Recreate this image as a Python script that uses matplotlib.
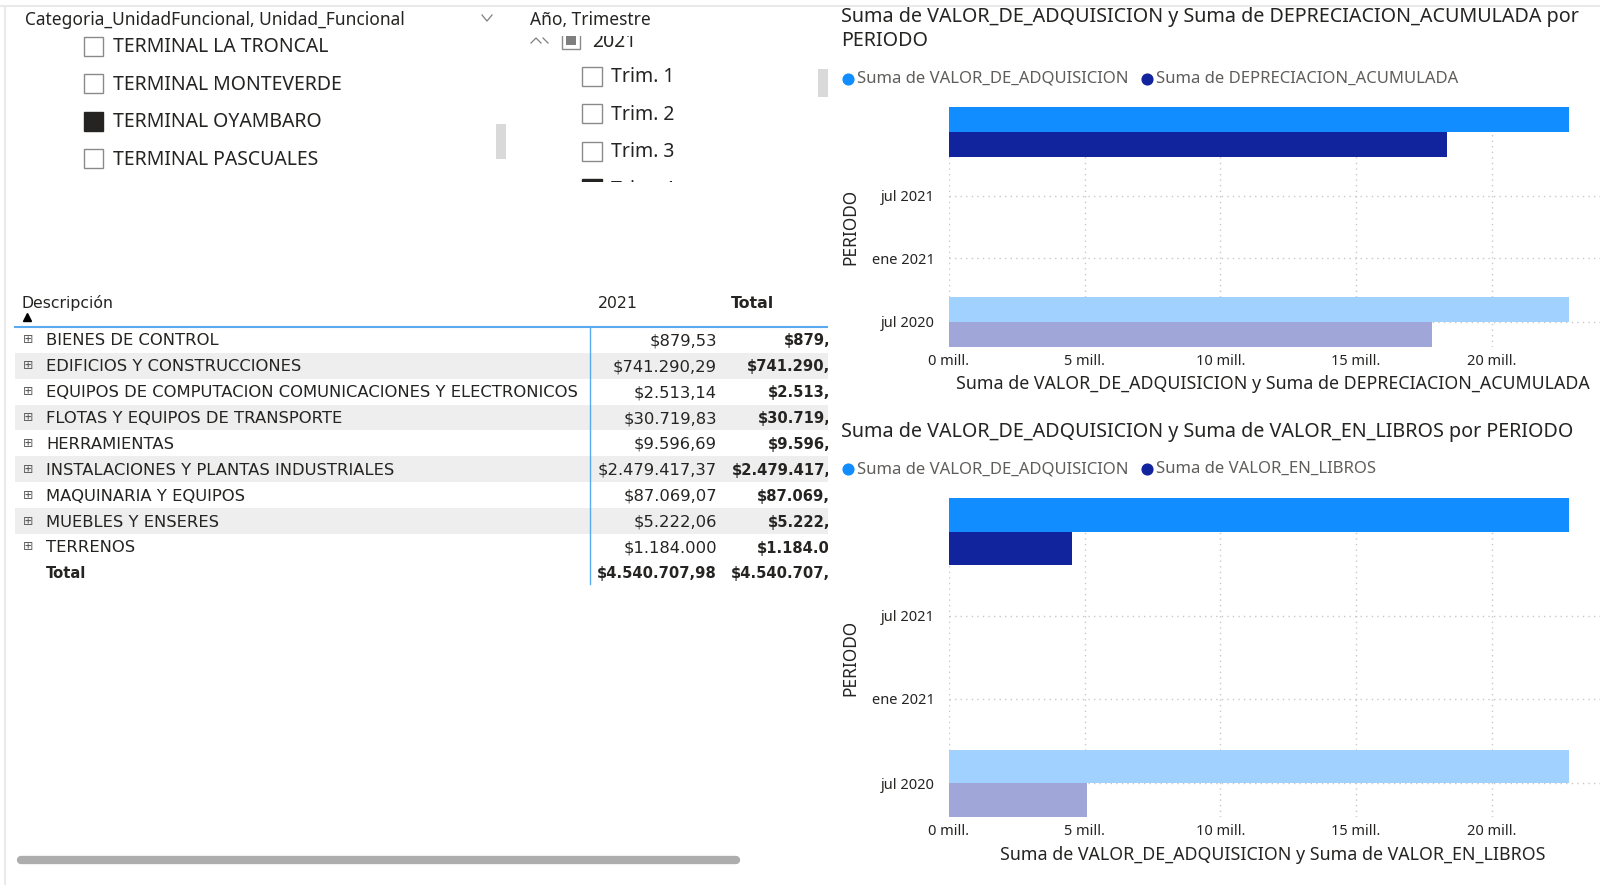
import matplotlib
matplotlib.use("Agg")
import matplotlib.pyplot as plt
import matplotlib.dates as mdates
from matplotlib.patches import Rectangle
import pandas as pd

plt.rcParams['font.family'] = ['Noto Sans', 'DejaVu Sans']

# --- data ---
unidades = ["TERMINAL LA TRONCAL", "TERMINAL MONTEVERDE", "TERMINAL OYAMBARO", "TERMINAL PASCUALES"]
unidades_sel = [False, False, True, False]
trimestres = ["Trim. 1", "Trim. 2", "Trim. 3", "Trim. 4"]
trimestres_sel = [False, False, False, True]

descripciones = ["BIENES DE CONTROL", "EDIFICIOS Y CONSTRUCCIONES",
                 "EQUIPOS DE COMPUTACION COMUNICACIONES Y ELECTRONICOS",
                 "FLOTAS Y EQUIPOS DE TRANSPORTE", "HERRAMIENTAS",
                 "INSTALACIONES Y PLANTAS INDUSTRIALES", "MAQUINARIA Y EQUIPOS",
                 "MUEBLES Y ENSERES", "TERRENOS"]
valores_2021 = [879.53, 741290.29, 2513.14, 30719.83, 9596.69,
                2479417.37, 87069.07, 5222.06, 1184000.00]

periodos = ["2020-07-01", "2021-12-31"]
valor_adquisicion = [22.86e6, 22.86e6]
depreciacion_acumulada = [17.80e6, 18.35e6]
valor_en_libros = [5.07e6, 4.55e6]
y_ticks = ["2020-07-01", "2021-01-01", "2021-07-01"]
y_tick_labels = ["jul 2020", "ene 2021", "jul 2021"]

TXT = '#252423'
GREY = '#605E5C'
LIGHT, DARK = '#118DFF', '#12239E'
LIGHT_F, DARK_F = '#A0D1FF', '#A0A6D8'
TFONT = 'DejaVu Sans'
TSIZE = 11.8
BSIZE = 10.6


def fmt_es(v):
    if abs(v - round(v)) < 1e-9:
        s = f"{v:,.0f}"
    else:
        s = f"{v:,.2f}"
    return "$" + s.replace(",", "X").replace(".", ",").replace("X", ".")


fig = plt.figure(figsize=(16, 8.85), dpi=100)
W, H = 1600, 885

bg = fig.add_axes([0, 0, 1, 1])
bg.set_xlim(0, W)
bg.set_ylim(H, 0)
bg.axis('off')


def px_axes(x0, y0, x1, y1):
    a = fig.add_axes([x0 / W, 1 - y1 / H, (x1 - x0) / W, (y1 - y0) / H])
    return a


# faint page borders
bg.plot([0, W], [6, 6], color='#EAEAEA', lw=1.5)
bg.plot([5, 5], [6, H], color='#EAEAEA', lw=1.5)

# --- slicer 1 ---
bg.text(25, 20, "Categoria_UnidadFuncional, Unidad_Funcional", fontsize=12.5,
        color=TXT, va='center')
bg.plot([482, 487, 492], [15, 21, 15], color='#7F7F7F', lw=0.9)
for i, (u, s) in enumerate(zip(unidades, unidades_sel)):
    y = 46 + i * 37.6
    bg.add_patch(Rectangle((84, y - 9.5), 19, 19, facecolor=TXT if s else 'white',
                           edgecolor=TXT if s else '#8A8A8A', lw=1))
    bg.text(113, y + 1, u, fontsize=14, color=TXT, va='center')
bg.add_patch(Rectangle((496, 124), 10, 35, facecolor='#D9D9D9', edgecolor='none'))

# --- slicer 2 ---
bg.text(530, 20, "Año, Trimestre", fontsize=12.5, color=TXT, va='center')
sl = px_axes(520, 36, 812, 182)
sl.set_xlim(520, 812)
sl.set_ylim(182, 36)
sl.axis('off')
sl.plot([531, 536, 541], [43, 38, 43], color='#7F7F7F', lw=0.9)
sl.plot([543, 548], [38, 43], color='#7F7F7F', lw=0.9)
sl.add_patch(Rectangle((562, 32), 18, 17, facecolor='white', edgecolor='#8A8A8A', lw=1))
sl.add_patch(Rectangle((566, 35), 10, 10, facecolor='#7F7F7F', edgecolor='none'))
sl.text(592, 42, "2021", fontsize=14, color=TXT, va='center', clip_on=True)
for i, (t, s) in enumerate(zip(trimestres, trimestres_sel)):
    y = 76 + i * 37.6
    sl.add_patch(Rectangle((582, y - 9.5), 20, 19, facecolor=TXT if s else 'white',
                           edgecolor=TXT if s else '#8A8A8A', lw=1))
    sl.text(611, y + 1, t, fontsize=14, color=TXT, va='center', clip_on=True)
bg.add_patch(Rectangle((818, 69), 10, 28, facecolor='#D9D9D9', edgecolor='none'))

# --- matrix table ---
tb = px_axes(0, 280, 828, 600)
tb.set_xlim(0, 828)
tb.set_ylim(600, 280)
tb.axis('off')
tb.text(22, 303, "Descripción", fontsize=11.3, color=TXT, va='center', family=TFONT)
tb.text(598, 303, "2021", fontsize=11.3, color=TXT, va='center', family=TFONT)
tb.text(731, 303, "Total", fontsize=11.3, color=TXT, va='center', fontweight='bold',
        family=TFONT)
tb.plot([27.5], [317], marker='^', color='black', markersize=6)
row_h = 25.9
for i, (d, v) in enumerate(zip(descripciones, valores_2021)):
    y = 339.8 + i * row_h
    if i % 2 == 1:
        tb.add_patch(Rectangle((15, y - row_h / 2), 813, row_h, facecolor='#EEEEEE',
                               edgecolor='none', zorder=0))
    tb.text(28.5, y, "⊞", fontsize=9, color='#605E5C', va='center', ha='center',
            family='DejaVu Sans')
    tb.text(46, y + 1, d, fontsize=TSIZE, color=TXT, va='center', family=TFONT)
    tb.text(717, y + 1, fmt_es(v), fontsize=TSIZE, color=TXT, va='center', ha='right',
            family=TFONT)
    tb.text(851, y + 1, fmt_es(v), fontsize=BSIZE, color=TXT, va='center', ha='right',
            fontweight='bold', clip_on=True, family=TFONT)
y = 339.8 + len(descripciones) * row_h
total = sum(valores_2021)
tb.text(46, y + 1, "Total", fontsize=BSIZE, color=TXT, va='center', fontweight='bold',
        family=TFONT)
tb.text(717, y + 1, fmt_es(total), fontsize=BSIZE, color=TXT, va='center', ha='right',
        fontweight='bold', family=TFONT)
tb.text(851, y + 1, fmt_es(total), fontsize=BSIZE, color=TXT, va='center', ha='right',
        fontweight='bold', clip_on=True, family=TFONT)
tb.plot([15, 828], [326.5, 326.5], color='#5AAAF0', lw=1.5)
tb.plot([590, 590], [326.5, 584], color='#5AAAF0', lw=1)

bg.plot([21, 736], [860, 860], color='#ADADAD', lw=6, solid_capstyle='round')

# --- bar charts ---
dates = mdates.date2num(pd.to_datetime(periodos))
ticks = mdates.date2num(pd.to_datetime(y_ticks))
bh = 73


def bar_chart(box, second, second_name, title_lines, title_y, legend_y, label_y):
    ax = px_axes(*box)
    ax.set_facecolor('none')
    ax.barh(dates + bh / 2, valor_adquisicion, height=bh, color=[LIGHT_F, LIGHT], zorder=2)
    ax.barh(dates - bh / 2, second, height=bh, color=[DARK_F, DARK], zorder=2)
    ax.set_xlim(0, 24e6)
    ax.set_ylim(dates[0] - bh, dates[1] + bh)
    ax.set_xticks([0, 5e6, 10e6, 15e6, 20e6])
    ax.set_xticklabels([f"{v / 1e6:.0f} mill." for v in ax.get_xticks()])
    ax.set_yticks(ticks)
    ax.set_yticklabels(y_tick_labels)
    ax.tick_params(length=0, labelsize=10.5, labelcolor=TXT)
    ax.tick_params(axis='y', pad=10)
    ax.tick_params(axis='x', pad=5)
    ax.grid(True, color='#C8C8C8', linestyle=(0, (1, 3)), lw=1, zorder=0)
    for sp in ax.spines.values():
        sp.set_visible(False)
    for k, line in enumerate(title_lines):
        bg.text(841, title_y + k * 23.6, line, fontsize=14.2, color=TXT, va='center')
    bg.scatter([848], [legend_y], s=60, color=LIGHT)
    bg.text(857, legend_y, "Suma de VALOR_DE_ADQUISICION", fontsize=12, color=GREY, va='center')
    bg.scatter([1147], [legend_y], s=60, color=DARK)
    bg.text(1156, legend_y, "Suma de " + second_name, fontsize=12, color=GREY, va='center')
    bg.text(850, (box[1] + box[3]) / 2, "PERIODO", rotation=90, fontsize=12.5, color=TXT,
            ha='center', va='center')
    bg.text((box[0] + box[2]) / 2 - 2, label_y,
            "Suma de VALOR_DE_ADQUISICION y Suma de " + second_name,
            fontsize=12.8, color=TXT, ha='center', va='center')


bar_chart((949, 107, 1600, 347), depreciacion_acumulada, "DEPRECIACION_ACUMULADA",
          ["Suma de VALOR_DE_ADQUISICION y Suma de DEPRECIACION_ACUMULADA por", "PERIODO"],
          17.4, 78.6, 384)
bar_chart((949, 498, 1600, 817), valor_en_libros, "VALOR_EN_LIBROS",
          ["Suma de VALOR_DE_ADQUISICION y Suma de VALOR_EN_LIBROS por PERIODO"],
          432, 469, 855)

fig.savefig("out.png", dpi=100, facecolor='white')
